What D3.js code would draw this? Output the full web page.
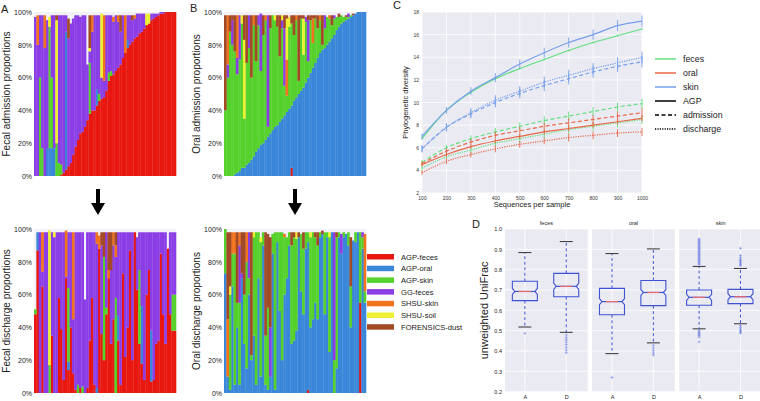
<!DOCTYPE html>
<html>
<head>
<meta charset="utf-8">
<script src="https://cdn.jsdelivr.net/npm/d3@7"></script>
<style>
  body { margin: 0; background: #fff; }
  text { font-family: "Liberation Sans", Arial, sans-serif; }
</style>
</head>
<body>
<div id="fig"></div>
<script>
// ---- source categories (panels A/B) ----
var categories = ["AGP-feces", "AGP-oral", "AGP-skin", "GG-feces", "SHSU-skin", "SHSU-soil", "FORENSICS-dust"];
var catColors = ["#e8170f", "#3a86d9", "#55d12b", "#8b3ee6", "#f2731d", "#eef032", "#a24a26"];

// each row = one sample, columns follow `categories`, percent
var fecalAdmission = [
  [0,0,0,97,0,0,0],[0,0,0,80,18,0,0],[0,0,60,38,0,0,0],[0,0,17,81,0,0,0],[0,0,0,78,20,0,0],
  [0,17,0,78,0,0,0],[0,17,74,0,0,6,0],[0,17,43,38,0,0,0],[0,17,0,81,0,0,0],[0,0,20,0,0,75,3],
  [0,0,8,90,0,0,0],[1,0,6,91,0,0,0],[2,0,0,96,0,0,0],[4,84,0,10,0,0,0],[6,0,0,78,0,0,12],
  [8,0,0,85,0,0,0],[13,0,0,83,0,0,0],[18,0,0,80,0,0,0],[22,0,0,76,0,0,0],[26,0,0,71,0,0,0],
  [27,0,0,71,0,0,0],[30,0,0,68,0,0,0],[34,0,0,34,0,0,0],[38,0,31,7,0,2,20],[40,0,0,48,10,0,0],
  [40,0,0,58,0,0,0],[43,10,0,45,0,0,0],[46,0,4,48,0,0,0],[47,0,0,13,0,39,0],[48,0,0,10,40,0,0],
  [52,0,0,46,0,0,0],[58,0,5,35,0,0,0],[61,0,3,34,0,0,0],[62,0,0,32,3,0,0],[64,0,0,34,0,0,0],
  [66,0,0,28,4,0,0],[68,0,0,20,0,0,10],[72,0,0,26,0,0,0],[75,0,0,0,23,0,0],[78,5,0,15,0,0,0],
  [80,0,0,18,0,0,0],[82,0,0,13,0,0,3],[84,0,0,12,2,0,0],[85,0,0,14,0,0,0],[87,0,0,12,0,0,0],
  [88,0,0,11,0,0,0],[90,0,0,9,0,0,0],[92,0,0,0,0,7,0],[93,0,0,0,0,6,0],[95,0,0,4,0,0,0],
  [96,0,0,3,0,0,0],[97,0,0,2,0,0,0],[98,0,0,1,0,0,0],[99,0,0,1,0,0,0],[99,0,0,1,0,0,0],
  [100,0,0,0,0,0,0],[100,0,0,0,0,0,0],[100,0,0,0,0,0,0],[100,0,0,0,0,0,0],[100,0,0,0,0,0,0]
];
var oralAdmission = [
  [0,0,40,0,0,0,58],[0,0,60,8,30,0,0],[0,0,88,0,0,0,10],[0,0,80,15,0,0,3],[0,1,75,0,0,0,22],
  [0,2,60,10,26,0,0],[0,3,68,27,0,0,0],[0,5,88,0,0,5,0],[0,5,30,0,0,48,15],[0,7,62,0,0,0,29],
  [0,8,70,20,0,0,0],[0,10,50,0,0,0,38],[0,12,80,0,6,0,0],[0,15,55,0,0,0,28],[0,17,75,6,0,0,0],
  [0,19,45,35,0,0,0],[0,20,66,0,0,0,12],[0,22,73,0,3,0,0],[0,24,6,68,0,0,0],[0,26,64,0,0,0,8],
  [0,28,70,0,0,0,0],[0,30,65,0,0,3,0],[0,31,60,0,0,0,7],[0,33,40,0,0,0,25],[0,35,55,5,0,3,0],
  [0,37,18,35,0,0,8],[0,39,10,0,22,25,2],[0,41,50,0,0,6,0],[5,38,50,0,0,0,5],[0,46,40,0,0,0,12],
  [0,48,47,0,3,0,0],[0,50,8,0,0,0,40],[0,52,44,0,0,0,2],[0,54,20,0,0,22,2],[0,57,37,3,0,0,0],
  [0,60,10,25,0,0,3],[0,63,32,0,0,0,3],[0,66,15,0,15,0,2],[0,69,27,0,0,0,2],[0,72,18,0,0,0,8],
  [0,75,20,0,3,0,0],[0,77,3,0,0,0,18],[0,78,12,8,0,0,0],[0,80,17,0,0,0,0],[0,82,14,0,2,0,0],
  [0,84,8,0,0,0,6],[0,86,10,2,0,0,0],[0,89,8,0,0,0,0],[0,91,6,0,0,0,2],[0,93,5,0,0,0,0],
  [0,94,3,0,0,0,0],[0,95,2,0,0,0,1],[0,96,1,2,0,0,0],[0,97,1,0,0,0,0],[0,98,0,0,0,0,1],
  [0,99,0,0,0,0,0],[0,100,0,0,0,0,0],[0,100,0,0,0,0,0],[0,100,0,0,0,0,0],[0,100,0,0,0,0,0]
];
var fecalDischarge = [
  [48,0,3,0,0,0,0],[87,11,0,0,0,0,0],[0,0,0,98,0,0,0],[65,0,0,9,24,0,0],[0,0,0,98,0,0,0],
  [0,0,0,98,0,0,0],[0,0,17,0,0,82,0],[35,0,0,63,0,0,0],[0,0,0,95,0,3,0],[0,0,0,98,0,0,0],
  [58,0,0,40,0,0,0],[39,0,0,59,0,0,0],[8,0,0,90,0,0,0],[70,0,0,1,28,0,0],[14,5,45,34,0,0,0],
  [40,0,0,58,0,0,0],[12,0,0,33,53,0,0],[2,0,0,96,0,0,0],[0,0,5,93,0,0,0],[3,0,0,95,0,0,0],
  [0,0,4,94,0,0,0],[0,0,0,57,0,0,0],[3,0,0,95,0,0,0],[32,0,0,66,0,0,0],[58,0,0,40,0,0,0],
  [5,0,0,93,0,0,0],[0,3,0,88,7,0,0],[88,0,0,0,8,0,0],[36,0,0,54,0,0,8],[20,0,63,0,0,0,15],
  [48,0,4,46,0,0,0],[70,0,0,0,5,0,23],[30,0,0,45,0,0,23],[45,0,0,45,8,0,0],[0,0,58,25,7,0,8],
  [32,15,0,51,0,0,0],[5,0,0,93,0,0,0],[73,0,0,25,0,0,0],[22,0,0,76,0,0,0],[40,0,0,58,0,0,0],
  [87,0,0,11,0,0,0],[20,0,0,78,0,0,0],[98,0,0,0,0,0,0],[63,0,0,32,0,0,0],[30,0,45,23,0,0,0],
  [18,35,0,45,0,0,0],[8,0,0,90,0,0,0],[60,0,0,38,0,0,0],[75,0,0,23,0,0,0],[7,31,0,60,0,0,0],
  [8,0,0,90,0,0,0],[30,0,0,68,0,0,0],[32,0,0,66,0,0,0],[85,0,0,13,0,0,0],[48,0,0,50,0,0,0],
  [30,0,0,68,0,0,0],[88,0,0,0,0,0,0],[48,0,0,50,0,0,0],[38,0,22,38,0,0,0],[38,0,22,38,0,0,0]
];
var oralDischarge = [
  [0,73,27,0,0,0,0],[0,10,0,0,35,0,53],[0,2,58,0,0,5,33],[0,65,20,0,13,0,0],[0,5,80,0,13,0,0],
  [0,40,15,0,0,0,43],[0,5,50,35,8,0,0],[0,70,0,3,0,0,25],[0,30,30,0,0,0,38],[0,15,65,0,18,0,0],
  [0,60,10,28,0,0,0],[0,20,3,0,0,0,75],[0,35,60,0,0,3,0],[0,5,93,0,0,0,0],[0,70,28,0,0,0,0],
  [0,10,82,0,0,3,0],[0,90,8,0,0,0,0],[0,5,30,0,0,0,63],[0,2,50,0,0,0,45],[0,10,0,30,0,0,55],
  [0,85,12,0,0,0,0],[0,2,96,0,0,0,0],[0,92,6,0,0,0,0],[0,50,48,0,0,0,0],[0,20,78,0,0,0,0],
  [0,60,35,0,2,0,0],[0,70,25,0,0,0,0],[0,90,8,0,0,0,0],[0,30,60,0,0,0,8],[0,32,63,0,0,0,3],
  [0,38,56,0,0,4,0],[0,95,0,0,0,0,3],[0,62,35,0,0,0,0],[0,48,40,0,0,0,10],[0,88,10,0,0,0,0],
  [2,90,6,0,0,0,0],[0,40,55,0,0,3,0],[0,45,53,0,0,0,0],[0,55,40,0,0,0,3],[0,45,45,0,0,0,8],
  [0,95,3,0,0,0,0],[0,97,0,0,0,0,2],[0,48,50,0,0,0,0],[0,95,3,0,0,0,0],[0,25,70,0,0,3,0],
  [0,98,0,0,0,0,0],[0,0,20,78,0,0,0],[0,15,80,0,0,0,3],[0,95,3,0,0,0,0],[0,85,0,12,0,0,0],
  [0,95,3,0,0,0,0],[0,97,0,0,0,0,0],[0,90,8,0,0,0,0],[0,40,25,0,0,0,30],[0,93,0,0,0,0,0],
  [0,92,6,0,0,0,0],[0,98,0,0,0,0,0],[55,0,43,0,0,0,0],[0,88,7,3,0,0,0],[0,55,7,0,35,0,0]
];
var pctTicks = [0, 20, 40, 60, 80, 100];

// ---- panel C: rarefaction ----
var seqDepth = [100, 200, 300, 400, 500, 600, 700, 800, 900, 1000];
var pdFecesAGP = [6.8, 9.3, 10.9, 12.1, 13.0, 13.8, 14.6, 15.3, 15.9, 16.5];
var pdOralAGP  = [4.5, 5.4, 6.1, 6.6, 7.0, 7.4, 7.7, 8.0, 8.3, 8.6];
var pdSkinAGP  = [7.0, 9.3, 11.0, 12.2, 13.4, 14.4, 15.3, 16.0, 16.8, 17.2];
var pdFecesAdm = [4.7, 6.0, 6.8, 7.4, 7.9, 8.4, 8.8, 9.2, 9.6, 9.9];
var pdOralAdm  = [4.6, 5.7, 6.5, 7.1, 7.5, 7.9, 8.2, 8.5, 8.8, 9.1];
var pdSkinAdm  = [5.9, 7.8, 9.0, 10.0, 10.8, 11.5, 12.1, 12.7, 13.2, 13.6];
var pdFecesDis = [4.2, 5.2, 5.8, 6.4, 6.8, 7.2, 7.6, 7.9, 8.2, 8.5];
var pdOralDis  = [3.8, 4.8, 5.4, 5.9, 6.3, 6.6, 6.9, 7.1, 7.3, 7.4];
var pdSkinDis  = [5.9, 7.8, 9.1, 10.2, 11.0, 11.8, 12.4, 13.0, 13.5, 14.0];
var errFecesAGP = [0.1, 0.1, 0.1, 0.1, 0.1, 0.1, 0.1, 0.1, 0.1, 0.1];
var errOralAGP  = [0.15, 0.2, 0.2, 0.2, 0.2, 0.25, 0.25, 0.25, 0.25, 0.25];
var errSkinAGP  = [0.25, 0.3, 0.35, 0.4, 0.4, 0.45, 0.45, 0.45, 0.5, 0.5];
var errFecesAdm = [0.2, 0.25, 0.3, 0.35, 0.35, 0.4, 0.4, 0.4, 0.4, 0.45];
var errOralAdm  = [0.2, 0.25, 0.3, 0.3, 0.35, 0.35, 0.4, 0.4, 0.4, 0.4];
var errSkinAdm  = [0.3, 0.35, 0.4, 0.45, 0.45, 0.5, 0.5, 0.5, 0.5, 0.5];
var errFecesDis = [0.2, 0.25, 0.3, 0.3, 0.35, 0.35, 0.4, 0.4, 0.4, 0.4];
var errOralDis  = [0.2, 0.25, 0.25, 0.3, 0.3, 0.3, 0.35, 0.35, 0.35, 0.35];
var errSkinDis  = [0.3, 0.35, 0.4, 0.45, 0.45, 0.5, 0.5, 0.5, 0.5, 0.5];
var tissues = ["feces", "oral", "skin"];
var tissueColors = ["#62df80", "#e8684a", "#779fec"];
var cohorts = ["AGP", "admission", "discharge"];
var cohortDash = [null, "4,2.5", "1.2,1.2"];

// ---- panel D: unweighted UniFrac boxes (feces A, feces D, oral A, oral D, skin A, skin D) ----
var boxFacets = ["feces", "oral", "skin"];
var timepoints = ["A", "D"];
var whiskLo = [0.518, 0.492, 0.387, 0.440, 0.509, 0.534];
var q1Vals  = [0.648, 0.667, 0.578, 0.623, 0.625, 0.633];
var medVals = [0.693, 0.718, 0.643, 0.688, 0.664, 0.667];
var q3Vals  = [0.743, 0.782, 0.708, 0.747, 0.700, 0.703];
var whiskHi = [0.884, 0.938, 0.879, 0.902, 0.816, 0.806];
var fliers = [
  [0.487],
  [0.479, 0.466, 0.455, 0.444, 0.432, 0.418, 0.405, 0.392],
  [0.270],
  [0.428, 0.415, 0.402, 0.390, 0.380],
  [0.826, 0.832, 0.838, 0.844, 0.85, 0.856, 0.862, 0.868, 0.874, 0.88, 0.886, 0.892, 0.898, 0.904,
   0.91, 0.916, 0.922, 0.928, 0.934, 0.94, 0.946, 0.951, 0.50, 0.494, 0.488, 0.482, 0.476, 0.468, 0.445],
  [0.82, 0.826, 0.832, 0.838, 0.844, 0.85, 0.86, 0.87, 0.905, 0.525, 0.515, 0.507, 0.50, 0.494, 0.488]
];

var W = 760, H = 401;
var svg = d3.select("#fig").append("svg").attr("width", W).attr("height", H);

//Stacked composition bars
function stackPanel(rows, box) {
    var x = d3.scaleBand().domain(d3.range(rows.length)).range([box.x0, box.x1]);
    var y = d3.scaleLinear().domain([0, 100]).range([box.y1, box.y0]).clamp(true);
    var table = rows.map(function (r) {
        var o = {};
        categories.forEach(function (c, i) { o[c] = r[i]; });
        return o;
    });
    var series = d3.stack().keys(categories)(table);

    svg.append("rect").attr("x", box.x0).attr("y", box.y0)
        .attr("width", box.x1 - box.x0).attr("height", box.y1 - box.y0)
        .attr("fill", "#f1f1f7");

    var g = svg.append("g");
    series.forEach(function (s, k) {
        g.append("g").attr("fill", catColors[k])
            .selectAll("rect").data(s).enter().append("rect")
            .attr("x", function (d, i) { return x(i); })
            .attr("width", x.bandwidth() + 0.3)
            .attr("y", function (d) { return y(d[1]); })
            .attr("height", function (d) { return Math.max(0, y(d[0]) - y(d[1])); });
    });

    var ax = svg.append("g").attr("transform", "translate(" + box.x0 + ",0)")
        .call(d3.axisLeft(y).tickValues(pctTicks).tickFormat(function (d) { return d + "%"; })
            .tickSize(0).tickPadding(2));
    ax.select(".domain").remove();
    ax.selectAll("text").attr("font-size", 7).attr("fill", "#222")
        .style("font-family", "Liberation Sans, Arial, sans-serif");

    svg.append("text")
        .attr("transform", "translate(" + box.lx + "," + ((box.y0 + box.y1) / 2) + ") rotate(-90)")
        .attr("text-anchor", "middle").attr("font-size", 10).attr("fill", "#222")
        .text(box.label);
}

stackPanel(fecalAdmission, {x0: 34, x1: 176, y0: 12, y1: 176, lx: 9.5, label: "Fecal admission proportions"});
stackPanel(oralAdmission, {x0: 224, x1: 366, y0: 12, y1: 176, lx: 199.5, label: "Oral admission proportions"});
stackPanel(fecalDischarge, {x0: 34, x1: 176, y0: 229, y1: 393, lx: 9.5, label: "Fecal discharge proportions"});
stackPanel(oralDischarge, {x0: 224, x1: 366, y0: 229, y1: 393, lx: 199.5, label: "Oral discharge proportions"});

//Down arrows between admission and discharge
[98, 295].forEach(function (cx) {
    svg.append("path")
        .attr("d", "M" + (cx - 2) + ",189 L" + (cx + 2) + ",189 L" + (cx + 2) + ",203 L" + (cx + 7) + ",203 L" +
            cx + ",215 L" + (cx - 7) + ",203 L" + (cx - 2) + ",203 Z")
        .attr("fill", "#000");
});

//Legend for composition panels
var leg = svg.append("g").attr("transform", "translate(367,254)");
categories.forEach(function (c, i) {
    leg.append("rect").attr("x", 0).attr("y", i * 11.7).attr("width", 27).attr("height", 5.5)
        .attr("fill", catColors[i]);
    leg.append("text").attr("x", 34).attr("y", i * 11.7 + 5.5).attr("font-size", 7.6)
        .attr("fill", "#222").text(c);
});

//Panel labels
[["A", 1, 13], ["B", 190, 12], ["C", 393, 9], ["D", 472, 228]].forEach(function (p) {
    svg.append("text").attr("x", p[1]).attr("y", p[2]).attr("font-size", 11).attr("fill", "#222").text(p[0]);
});

// ---- Panel C ----
var cx0 = 422, cx1 = 642, cy0 = 12, cy1 = 193;
var xC = d3.scaleLinear().domain([100, 1000]).range([cx0, cx1]);
var yC = d3.scaleLinear().domain([2, 18]).range([cy1, cy0]);
var gC = svg.append("g");
gC.append("rect").attr("x", cx0).attr("y", cy0).attr("width", cx1 - cx0).attr("height", cy1 - cy0)
    .attr("fill", "#eaeaf2");
gC.selectAll("line.gy").data(d3.range(2, 19, 2)).enter().append("line")
    .attr("x1", cx0).attr("x2", cx1).attr("y1", yC).attr("y2", yC)
    .attr("stroke", "#fff").attr("stroke-width", 0.8);
gC.selectAll("line.gx").data(seqDepth).enter().append("line")
    .attr("y1", cy0).attr("y2", cy1).attr("x1", xC).attr("x2", xC)
    .attr("stroke", "#fff").attr("stroke-width", 0.8);

var axCy = svg.append("g").attr("transform", "translate(" + cx0 + ",0)")
    .call(d3.axisLeft(yC).tickValues(d3.range(2, 19, 2)).tickSize(0).tickPadding(3));
var axCx = svg.append("g").attr("transform", "translate(0," + cy1 + ")")
    .call(d3.axisBottom(xC).tickValues(seqDepth).tickFormat(d3.format("d")).tickSize(0).tickPadding(3));
[axCy, axCx].forEach(function (a) {
    a.select(".domain").remove();
    a.selectAll("text").attr("font-size", 5).attr("fill", "#333")
        .style("font-family", "Liberation Sans, Arial, sans-serif");
});
svg.append("text").attr("transform", "translate(408," + ((cy0 + cy1) / 2) + ") rotate(-90)")
    .attr("text-anchor", "middle").attr("font-size", 7.5).attr("fill", "#222").text("Phylogenetic diversity");
svg.append("text").attr("x", (cx0 + cx1) / 2).attr("y", 207).attr("text-anchor", "middle")
    .attr("font-size", 7.5).attr("fill", "#222").text("Sequences per sample");

var curves = [
    {t: 0, c: 2, v: pdFecesDis, e: errFecesDis}, {t: 1, c: 2, v: pdOralDis, e: errOralDis},
    {t: 2, c: 2, v: pdSkinDis, e: errSkinDis},
    {t: 0, c: 1, v: pdFecesAdm, e: errFecesAdm}, {t: 1, c: 1, v: pdOralAdm, e: errOralAdm},
    {t: 2, c: 1, v: pdSkinAdm, e: errSkinAdm},
    {t: 1, c: 0, v: pdOralAGP, e: errOralAGP}, {t: 0, c: 0, v: pdFecesAGP, e: errFecesAGP},
    {t: 2, c: 0, v: pdSkinAGP, e: errSkinAGP}
];
var line = d3.line().x(function (d, i) { return xC(seqDepth[i]); }).y(function (d) { return yC(d); })
    .curve(d3.curveMonotoneX);
curves.forEach(function (s) {
    gC.append("path").attr("d", line(s.v)).attr("fill", "none")
        .attr("stroke", tissueColors[s.t]).attr("stroke-width", 1.2)
        .attr("stroke-dasharray", cohortDash[s.c]);
    gC.selectAll(null).data(s.v).enter().append("line")
        .attr("x1", function (d, i) { return xC(seqDepth[i]); })
        .attr("x2", function (d, i) { return xC(seqDepth[i]); })
        .attr("y1", function (d, i) { return yC(d - s.e[i]); })
        .attr("y2", function (d, i) { return yC(d + s.e[i]); })
        .attr("stroke", tissueColors[s.t]).attr("stroke-width", 0.9);
});

//Panel C legend
var legC = svg.append("g").attr("transform", "translate(655,59)");
var legItems = tissues.map(function (t, i) { return {label: t, color: tissueColors[i], dash: null}; })
    .concat(cohorts.map(function (c, i) { return {label: c, color: "#000", dash: cohortDash[i]}; }));
legItems.forEach(function (d, i) {
    legC.append("line").attr("x1", 0).attr("x2", 21).attr("y1", i * 14).attr("y2", i * 14)
        .attr("stroke", d.color).attr("stroke-width", 1.5).attr("stroke-dasharray", d.dash);
    legC.append("text").attr("x", 28).attr("y", i * 14 + 3).attr("font-size", 8.8)
        .attr("fill", "#222").text(d.label);
});

// ---- Panel D ----
var dy0 = 229, dy1 = 391.7;
var yD = d3.scaleLinear().domain([0.2, 1.0]).range([dy1, dy0]);
var facetX = d3.scaleBand().domain(boxFacets).range([505, 762]).paddingInner(0.05);
var boxW = 25;
var boxColor = "#3e52d2";

boxFacets.forEach(function (f, fi) {
    var fx0 = facetX(f), fw = facetX.bandwidth();
    var xT = d3.scalePoint().domain(timepoints).range([fx0 + fw * 0.24, fx0 + fw * 0.74]);
    var g = svg.append("g");
    g.append("rect").attr("x", fx0).attr("y", dy0).attr("width", fw).attr("height", dy1 - dy0)
        .attr("fill", "#eaeaf2");
    g.selectAll(null).data(d3.range(0.2, 1.01, 0.1)).enter().append("line")
        .attr("x1", fx0).attr("x2", fx0 + fw).attr("y1", yD).attr("y2", yD)
        .attr("stroke", "#fff").attr("stroke-width", 0.8);
    g.selectAll(null).data(timepoints).enter().append("line")
        .attr("x1", xT).attr("x2", xT).attr("y1", dy0).attr("y2", dy1)
        .attr("stroke", "#fff").attr("stroke-width", 0.8);

    svg.append("text").attr("x", fx0 + fw / 2).attr("y", 225).attr("text-anchor", "middle")
        .attr("font-size", 5.5).attr("fill", "#222").text(f);

    var axX = svg.append("g").attr("transform", "translate(0," + dy1 + ")")
        .call(d3.axisBottom(xT).tickSize(0).tickPadding(3));
    axX.select(".domain").remove();
    axX.selectAll("text").attr("font-size", 5.5).attr("fill", "#222")
        .style("font-family", "Liberation Sans, Arial, sans-serif");

    timepoints.forEach(function (tp, ti) {
        var k = fi * 2 + ti, cxb = xT(tp);
        var x0 = cxb - boxW / 2, x1 = cxb + boxW / 2, nd = 2.5;
        var yq1 = yD(q1Vals[k]), yq3 = yD(q3Vals[k]), ym = yD(medVals[k]);
        var nh = 3;
        //whiskers
        g.append("line").attr("x1", cxb).attr("x2", cxb).attr("y1", yq3).attr("y2", yD(whiskHi[k]))
            .attr("stroke", boxColor).attr("stroke-width", 1).attr("stroke-dasharray", "3,2.5");
        g.append("line").attr("x1", cxb).attr("x2", cxb).attr("y1", yq1).attr("y2", yD(whiskLo[k]))
            .attr("stroke", boxColor).attr("stroke-width", 1).attr("stroke-dasharray", "3,2.5");
        [whiskHi[k], whiskLo[k]].forEach(function (v) {
            g.append("line").attr("x1", cxb - 6.5).attr("x2", cxb + 6.5).attr("y1", yD(v)).attr("y2", yD(v))
                .attr("stroke", "#333").attr("stroke-width", 1);
        });
        //notched box
        var p = "M" + x0 + "," + yq1 + "L" + x1 + "," + yq1 + "L" + x1 + "," + (ym + nh) +
            "L" + (x1 - nd) + "," + ym + "L" + x1 + "," + (ym - nh) + "L" + x1 + "," + yq3 +
            "L" + x0 + "," + yq3 + "L" + x0 + "," + (ym - nh) + "L" + (x0 + nd) + "," + ym +
            "L" + x0 + "," + (ym + nh) + "Z";
        g.append("path").attr("d", p).attr("fill", "none").attr("stroke", boxColor).attr("stroke-width", 1.1);
        g.append("line").attr("x1", x0 + nd).attr("x2", x1 - nd).attr("y1", ym).attr("y2", ym)
            .attr("stroke", boxColor).attr("stroke-width", 1.2);
        g.append("line").attr("x1", x0 + nd + 4).attr("x2", x1 - nd - 4).attr("y1", ym).attr("y2", ym)
            .attr("stroke", "#f06a6a").attr("stroke-width", 1.2);
        //outliers
        g.selectAll(null).data(fliers[k]).enter().append("path")
            .attr("d", function (v) {
                var yy = yD(v);
                return "M" + (cxb - 1.5) + "," + yy + "H" + (cxb + 1.5) + "M" + cxb + "," + (yy - 1.5) + "V" + (yy + 1.5);
            })
            .attr("stroke", "#5a6ee0").attr("stroke-width", 0.6).attr("opacity", 0.8);
    });
});

var axDy = svg.append("g").attr("transform", "translate(" + facetX("feces") + ",0)")
    .call(d3.axisLeft(yD).tickValues(d3.range(0.2, 1.01, 0.1)).tickFormat(d3.format(".1f"))
        .tickSize(0).tickPadding(3));
axDy.select(".domain").remove();
axDy.selectAll("text").attr("font-size", 5.5).attr("fill", "#222")
    .style("font-family", "Liberation Sans, Arial, sans-serif");
svg.append("text").attr("transform", "translate(488," + ((dy0 + dy1) / 2) + ") rotate(-90)")
    .attr("text-anchor", "middle").attr("font-size", 11).attr("fill", "#222").text("unweighted UniFrac");
</script>
</body>
</html>
